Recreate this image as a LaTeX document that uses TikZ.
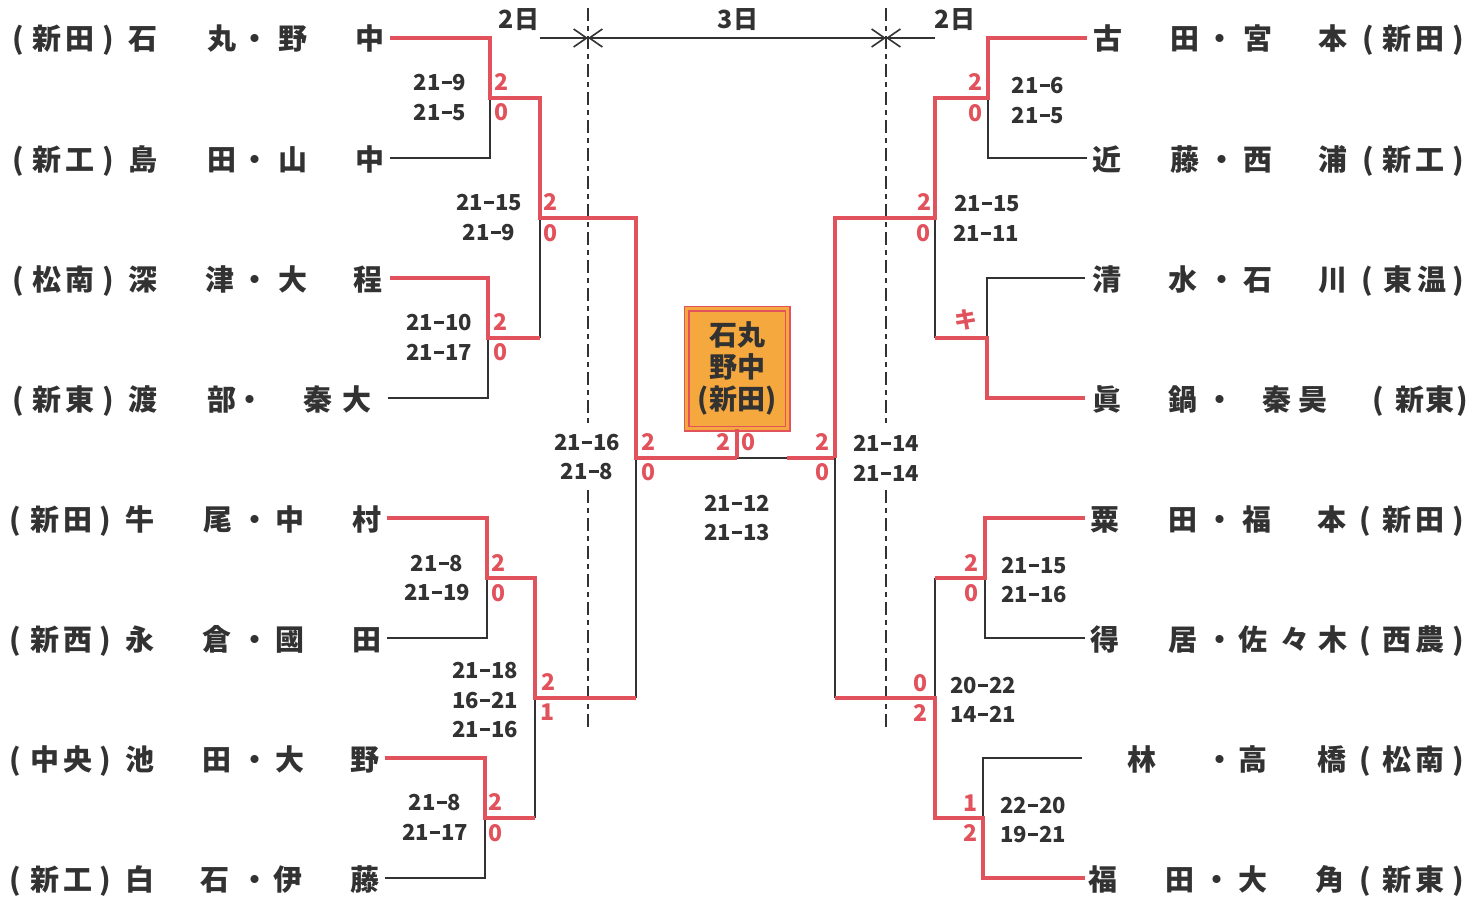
\documentclass[tikz,border=0pt]{standalone}
\usepackage{fontspec}
\setmainfont{Noto Sans CJK JP}
\usetikzlibrary{arrows.meta}
\definecolor{rd}{RGB}{226,82,92}
\definecolor{bk}{RGB}{50,50,50}
\definecolor{org}{RGB}{245,168,62}
\newcommand\hy{\kern0.05em\rule[0.30em]{0.46em}{0.1em}\kern0.05em}
\newcommand\chars[3]{\foreach \xx/\cc [count=\ii] in {#3}{\node[nm] (#1-\ii) at (\xx,#2+1) {\cc};}}
\tikzset{
  win/.style={draw=rd,line width=4pt,line join=miter},
  lose/.style={draw=bk,line width=2pt,line join=miter},
  nm/.style={font=\fontsize{29}{29}\selectfont\bfseries,text=bk,inner sep=0pt,text height=25.5pt,text depth=3.5pt},
  sc/.style={font=\fontsize{22}{22}\selectfont\bfseries,text=bk,inner sep=0pt,text height=16.2pt,text depth=0pt},
  dy/.style={font=\fontsize{25}{25}\selectfont\bfseries,text=bk,inner sep=0pt,text height=18.5pt,text depth=0pt},
  rs/.style={font=\fontsize{23}{23}\selectfont\bfseries,text=rd,inner sep=0pt,text height=16.9pt,text depth=0pt},
  dl/.style={draw=bk,line width=1.8pt,dash pattern=on 13pt off 5pt on 5pt off 5pt},
  ar/.style={draw=bk,line width=1.6pt},
  tip/.tip={Straight Barb[length=13pt,width=18pt,line width=1.6pt]},
}
\begin{document}
\begin{tikzpicture}[x=1pt,y=-1pt]
\useasboundingbox (0,0) rectangle (1482,899);
% ---------- names left
\chars{nl1}{38}{18/{(},47/新,80/田,108/{)},143/石,222/丸,255/・,293/野,370/中}
\chars{nl2}{158}{18/{(},47/新,80/工,108/{)},143/島,222/田,255/・,293/山,370/中}
\chars{nl3}{278}{18/{(},47/松,80/南,108/{)},143/深,220/津,255/・,293/大,368/程}
\chars{nl4}{398}{18/{(},47/新,80/東,108/{)},143/渡,222/部,250/・,318/秦,357/大}
\chars{nl5}{518}{15/{(},45/新,78/田,105/{)},140/牛,218/尾,255/・,290/中,367/村}
\chars{nl6}{638}{15/{(},45/新,78/西,105/{)},140/永,217/倉,255/・,290/國,367/田}
\chars{nl7}{758}{15/{(},45/中,78/央,105/{)},140/池,217/田,255/・,290/大,365/野}
\chars{nl8}{878}{15/{(},45/新,78/工,105/{)},140/白,215/石,255/・,288/伊,365/藤}
% ---------- names right
\chars{nr1}{38}{1108/古,1185/田,1220/・,1258/宮,1333/本,1368/{(},1397/新,1430/田,1458/{)}}
\chars{nr2}{158}{1107/近,1185/藤,1222/・,1258/西,1333/浦,1368/{(},1397/新,1430/工,1458/{)}}
\chars{nr3}{278}{1107/清,1183/水,1222/・,1258/石,1333/川,1367/{(},1398/東,1432/温,1458/{)}}
\chars{nr4}{398}{1107/眞,1183/鍋,1220/・,1277/秦,1313/昊,1378/{(},1410/新,1440/東,1462/{)}}
\chars{nr5}{518}{1105/粟,1183/田,1220/・,1257/福,1332/本,1365/{(},1397/新,1430/田,1458/{)}}
\chars{nr6}{638}{1105/得,1183/居,1220/・,1253/佐,1295/々,1333/木,1365/{(},1397/西,1430/農,1458/{)}}
\chars{nr7}{758}{1142/林,1220/・,1253/高,1332/橋,1365/{(},1397/松,1430/南,1458/{)}}
\chars{nr8}{878}{1103/福,1180/田,1217/・,1253/大,1330/角,1365/{(},1397/新,1430/東,1458/{)}}
% ---------- coordinates
\coordinate (L1) at (390,38);  \coordinate (L2) at (390,158);
\coordinate (L3) at (390,278); \coordinate (L4) at (388,398);
\coordinate (L5) at (387,518); \coordinate (L6) at (387,638);
\coordinate (L7) at (385,758); \coordinate (L8) at (385,878);
\coordinate (jA) at (490,98);  \coordinate (jB) at (488,338);
\coordinate (jC) at (487,578); \coordinate (jD) at (485,818);
\coordinate (jE) at (540,218); \coordinate (jF) at (535,698);
\coordinate (jG) at (636,458);
\coordinate (F1) at (737,458); \coordinate (F2) at (787,458);
\coordinate (jH) at (835,458);
\coordinate (jI) at (935,218); \coordinate (jJ) at (935,698);
\coordinate (jK) at (988,98);  \coordinate (jL) at (987,338);
\coordinate (jM) at (985,578); \coordinate (jN) at (983,818);
\coordinate (R1) at (1087,38);  \coordinate (R2) at (1087,158);
\coordinate (R3) at (1085,278); \coordinate (R4) at (1085,398);
\coordinate (R5) at (1085,518); \coordinate (R6) at (1085,638);
\coordinate (R7) at (1082,758); \coordinate (R8) at (1085,878);
% ---------- dashed day separators and arrows
\coordinate (da1) at (588,8); \coordinate (da2) at (588,427);
\coordinate (da3) at (588,490); \coordinate (da4) at (588,730);
\coordinate (db1) at (886,8); \coordinate (db2) at (886,427);
\coordinate (db3) at (886,490); \coordinate (db4) at (886,730);
\draw[dl] (da1) -- (da2);
\draw[dl] (da3) -- (da4);
\draw[dl] (db1) -- (db2);
\draw[dl] (db3) -- (db4);
\coordinate (ar1) at (540,38); \coordinate (ar2) at (588,38);
\coordinate (ar3) at (886,38); \coordinate (ar4) at (935,38);
\draw[ar,-tip] (ar1) -- (ar2);
\draw[ar,tip-tip] (ar2) -- (ar3);
\draw[ar,-tip] (ar4) -- (ar3);
\node[dy] (d1) at (519,19) {2日};
\node[dy] (d2) at (738,19) {3日};
\node[dy] (d3) at (955,19) {2日};
% ---------- bracket left
\draw[lose] (L2) -| (jA);
\draw[lose] (L4) -| (jB);
\draw[lose] (L6) -| (jC);
\draw[lose] (L8) -| (jD);
\draw[lose] (jB-|jE) -- (jE);
\draw[lose] (jD-|jF) -- (jF);
\draw[lose] (jF-|jG) -- (jG);
\draw[win] (L1) -| (jA) -| (jE) -| (jG) -- (F1);
\draw[win] (L3) -| (jB) -- (jB-|jE);
\draw[win] (L5) -| (jC) -| (jF) -- (jF-|jG);
\draw[win] (L7) -| (jD) -- (jD-|jF);
% ---------- final
\draw[lose] (F1) -- (F2);
\draw[win] (F2) -- (jH);
% ---------- bracket right
\draw[lose] (R2) -| (jK);
\draw[lose] (R3) -| (jL);
\draw[lose] (R6) -| (jM);
\draw[lose] (R7) -| (jN);
\draw[lose] (jL-|jI) -- (jI);
\draw[lose] (jM-|jJ) -- (jJ);
\draw[lose] (jJ-|jH) -- (jH);
\draw[win] (R1) -| (jK) -| (jI) -| (jH);
\draw[win] (R4) -| (jL) -- (jL-|jI);
\draw[win] (R5) -| (jM) -- (jM-|jJ);
\draw[win] (R8) -| (jN) -| (jJ) -- (jJ-|jH);
% ---------- champion box
\node[draw=rd,line width=1.5pt,double=org,double distance=3pt,fill=org,
      minimum width=101pt,minimum height=120pt,inner sep=0pt,align=center,
      text=bk,font=\fontsize{28}{32}\selectfont\bfseries] (champ) at (737,368.5) {石丸\\野中\\(新田)};
\draw[win] (champ.south) -- (F1);
% ---------- scores left
\node[sc] (s1a) at (440,82) {21\hy9};   \node[sc] (s1b) at (440,112) {21\hy5};
\node[rs] (r1a) at (501,82) {2};        \node[rs] (r1b) at (501,112) {0};
\node[sc] (s2a) at (439,322) {21\hy10}; \node[sc] (s2b) at (439,352) {21\hy17};
\node[rs] (r2a) at (500,322) {2};       \node[rs] (r2b) at (500,352) {0};
\node[sc] (s3a) at (489,202) {21\hy15}; \node[sc] (s3b) at (489,232) {21\hy9};
\node[rs] (r3a) at (550,202) {2};       \node[rs] (r3b) at (550,233) {0};
\node[sc] (s4a) at (587,442) {21\hy16}; \node[sc] (s4b) at (587,471) {21\hy8};
\node[rs] (r4a) at (648,442) {2};       \node[rs] (r4b) at (648,472) {0};
\node[sc] (s5a) at (437,563) {21\hy8};  \node[sc] (s5b) at (437,592) {21\hy19};
\node[rs] (r5a) at (498,563) {2};       \node[rs] (r5b) at (498,593) {0};
\node[sc] (s6a) at (485,670) {21\hy18}; \node[sc] (s6b) at (485,700) {16\hy21};
\node[sc] (s6c) at (485,729) {21\hy16};
\node[rs] (r6a) at (548,682) {2};       \node[rs] (r6b) at (547,712) {1};
\node[sc] (s7a) at (435,802) {21\hy8};  \node[sc] (s7b) at (435,832) {21\hy17};
\node[rs] (r7a) at (495,802) {2};       \node[rs] (r7b) at (495,833) {0};
% ---------- final scores
\node[rs] (r8a) at (723,442) {2};       \node[rs] (r8b) at (748,442) {0};
\node[sc] (s8a) at (737,503) {21\hy12}; \node[sc] (s8b) at (737,532) {21\hy13};
% ---------- scores right
\node[rs] (r9a) at (822,442) {2};       \node[rs] (r9b) at (822,472) {0};
\node[sc] (s9a) at (886,443) {21\hy14}; \node[sc] (s9b) at (886,473) {21\hy14};
\node[rs] (r10a) at (924,202) {2};      \node[rs] (r10b) at (923,233) {0};
\node[sc] (s10a) at (987,203) {21\hy15};\node[sc] (s10b) at (986,233) {21\hy11};
\node[rs] (r11a) at (975,82) {2};       \node[rs] (r11b) at (975,113) {0};
\node[sc] (s11a) at (1038,85) {21\hy6}; \node[sc] (s11b) at (1038,115) {21\hy5};
\node[rs] (kk) at (966,320) {キ};
\node[rs] (r12a) at (971,563) {2};      \node[rs] (r12b) at (971,593) {0};
\node[sc] (s12a) at (1034,565) {21\hy15};\node[sc] (s12b) at (1034,594) {21\hy16};
\node[rs] (r13a) at (920,683) {0};      \node[rs] (r13b) at (920,713) {2};
\node[sc] (s13a) at (983,685) {20\hy22};\node[sc] (s13b) at (983,714) {14\hy21};
\node[rs] (r14a) at (970,803) {1};      \node[rs] (r14b) at (970,833) {2};
\node[sc] (s14a) at (1033,805) {22\hy20};\node[sc] (s14b) at (1033,834) {19\hy21};
\end{tikzpicture}
\end{document}
